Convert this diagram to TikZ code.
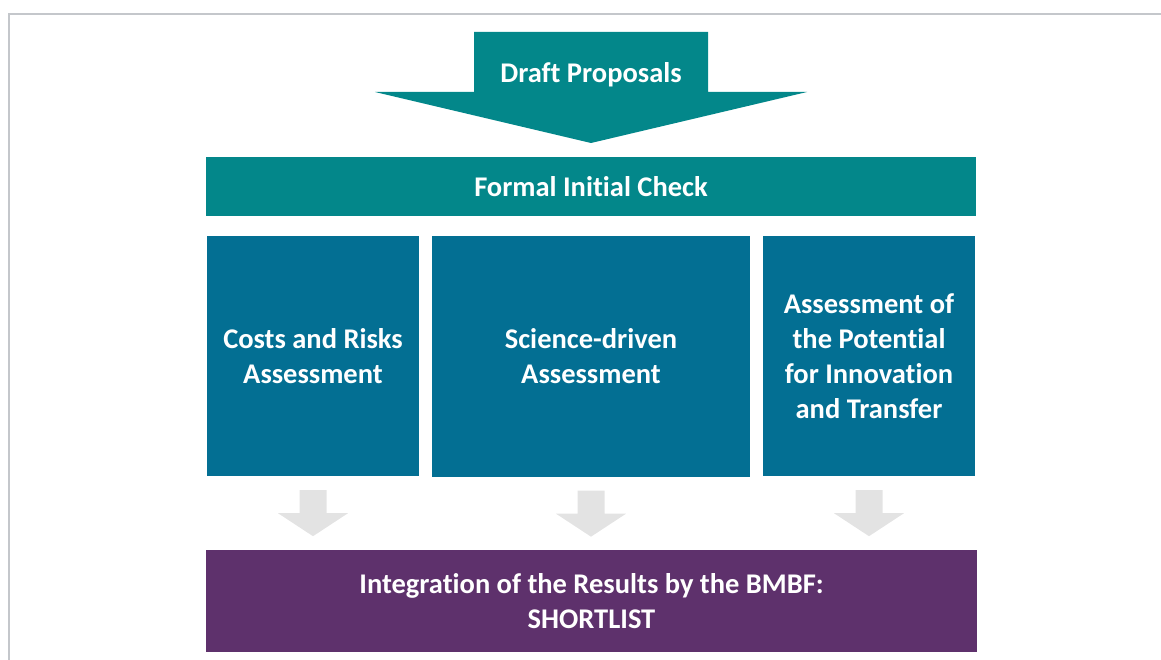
\documentclass[tikz,border=0pt]{standalone}
\usepackage{fontspec}
\setmainfont{Carlito}[Ligatures={NoCommon}]
\usetikzlibrary{calc}
\definecolor{tealc}{RGB}{3,135,138}
\definecolor{bluec}{RGB}{3,111,147}
\definecolor{purplec}{RGB}{94,49,108}
\definecolor{grayarrc}{RGB}{227,227,227}
\definecolor{framec}{RGB}{196,199,203}
\tikzset{
  lbl/.style={text=white, font=\bfseries\fontsize{28.5}{35}\selectfont, align=center, inner sep=0pt},
  box/.style={lbl, rectangle, minimum width=#1},
  tealbox/.style={box=#1, fill=tealc},
  bluebox/.style={box=#1, fill=bluec, minimum height=240},
  purplebox/.style={box=#1, fill=purplec, minimum height=102},
  grayarr/.style={fill=grayarrc},
  tealarr/.style={fill=tealc},
  frame/.style={draw=framec, line width=1.5pt}
}
\begin{document}
\begin{tikzpicture}[x=1pt,y=1pt]
\useasboundingbox (0,0) rectangle (1161,-660);
% frame lines
\draw[frame] (9,-660) -- (9,-14) -- (1161,-14);
% top block arrow
\fill[tealarr] (474,-32) -- (708,-32) -- (708,-92) -- (807,-92) -- (591,-143) -- (375,-92) -- (474,-92) -- cycle;
\node[lbl, text height=19, text depth=0] (draft) at (591,-83) [anchor=base] {Draft Proposals};
% formal check
\node[tealbox=770, minimum height=59] (formal) at (591,-186.5) {Formal Initial Check};
% three assessments
\node[bluebox=212] (c1) at (313,-356) {Costs and Risks\\Assessment};
\node[bluebox=318] (c2) at (591,-356.5) {Science-driven\\Assessment};
\node[bluebox=212] (c3) at (869,-356) {Assessment of\\the Potential\\for Innovation\\and Transfer};
% shortlist
\node[purplebox=771] (short) at (591.5,-601) {Integration of the Results by the BMBF:\\SHORTLIST};
% gray arrows
\foreach \c in {c1,c2,c3}{
  \fill[grayarr] ($(\c.south)+(-13.5,-14)$) -- ++(27,0) -- ++(0,-23) -- ++(21.5,0)
    -- ($(\c.south)+(0,-60)$) -- ($(\c.south)+(-35,-37)$) -- ++(21.5,0) -- cycle;
}
\end{tikzpicture}
\end{document}
